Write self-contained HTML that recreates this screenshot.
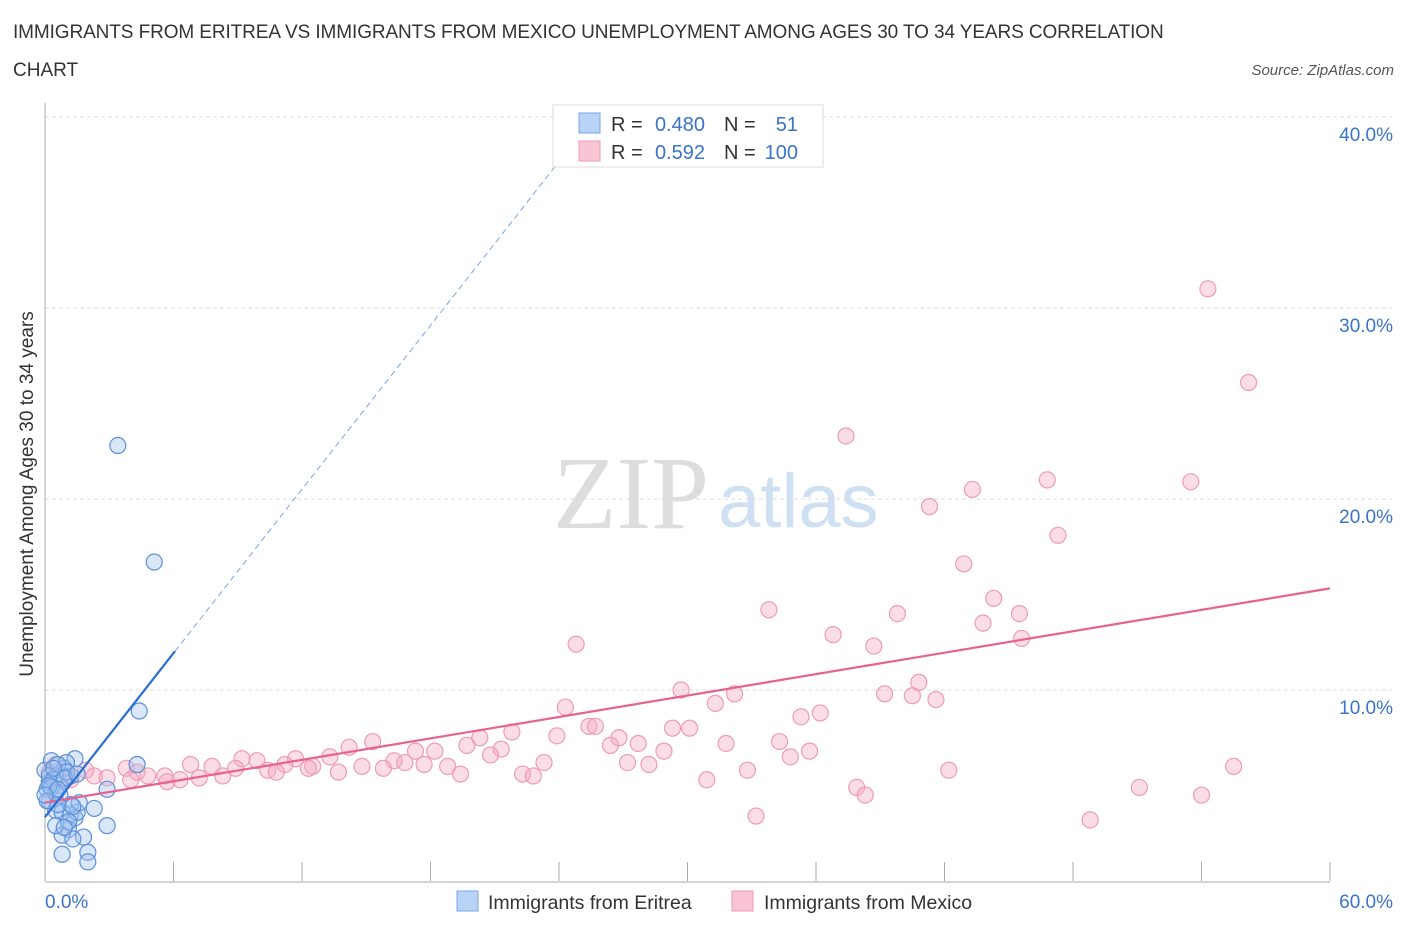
<!DOCTYPE html>
<html><head><meta charset="utf-8">
<style>
body{margin:0;background:#fff;font-family:"Liberation Sans",sans-serif;}
#wrap{position:relative;width:1406px;height:930px;overflow:hidden;}
.t{position:absolute;white-space:nowrap;}
</style></head>
<body>
<div id="wrap">
<div class="t" style="left:13px;top:22px;font-size:19px;color:#333;letter-spacing:-0.1px;">IMMIGRANTS FROM ERITREA VS IMMIGRANTS FROM MEXICO UNEMPLOYMENT AMONG AGES 30 TO 34 YEARS CORRELATION</div>
<div class="t" style="left:13px;top:60px;font-size:19px;color:#333;">CHART</div>
<div class="t" style="right:12px;top:62px;font-size:15px;color:#555;font-style:italic;">Source: ZipAtlas.com</div>
<svg id="svg" width="1406" height="930" style="position:absolute;left:0;top:0"></svg>
</div>
<script>
const NS="http://www.w3.org/2000/svg";
const svg=document.getElementById('svg');
const yTicks=[10,20,30,40];
const yTickLabels=["10.0%","20.0%","30.0%","40.0%"];
const xTickLabels=["0.0%","60.0%"];
const eritreaX=[3.4,5.1,4.4,4.3,2.9,2.9,2.3,1.4,0.9,0.5,0.2,0.1,0.2,0.5,0.8,1.2,1.4,1.5,1.1,0.8,0.5,1.8,2.0,2.0,0.8,1.2,0.7,0,0.3,1.0,1.2,0.6,0.1,0.7,0.2,1.1,0.6,1.6,1.3,0.9,0.4,0.3,1.0,0.5,1.3,0.2,0.9,1.5,0.6,0.0,0.4];
const eritreaY=[22.8,16.7,8.9,6.1,4.8,2.9,3.8,6.4,5.9,5.5,5.2,4.8,4.2,3.7,3.6,3.5,3.3,3.6,2.7,2.4,2.9,2.3,1.5,1.0,1.4,4.0,4.5,5.8,6.3,6.2,5.5,6.1,4.2,5.0,5.5,3.1,4.0,4.1,2.2,2.8,5.3,4.9,5.7,4.6,3.9,5.0,5.4,5.6,4.8,4.5,5.9];
const mexicoX=[54.3,56.2,37.4,46.8,43.3,53.5,41.3,47.3,42.9,44.3,33.8,45.5,39.8,43.8,36.8,45.6,24.8,38.7,40.8,29.7,39.2,40.5,41.6,32.2,31.3,24.3,36.2,35.3,25.4,25.7,21.8,29.3,30.1,23.9,26.8,20.3,15.3,19.7,26.4,27.7,31.8,34.3,14.2,18.2,21.3,17.3,28.9,35.7,20.8,34.8,9.2,9.9,11.7,13.3,16.3,16.8,27.2,28.2,23.3,6.8,7.8,11.2,12.5,14.8,15.8,17.7,18.8,55.5,3.8,8.9,10.4,12.3,13.7,32.8,42.2,4.3,5.6,8.3,10.8,19.4,22.3,22.8,4.8,6.3,7.2,5.7,4.0,2.3,1.9,2.9,1.2,0.5,0.2,30.9,51.1,37.9,38.3,54.0,33.2,48.8];
const mexicoY=[31.0,26.1,23.3,21.0,20.5,20.9,19.6,18.1,16.6,14.8,14.2,14.0,14.0,13.5,12.9,12.7,12.4,12.3,10.4,10.0,9.8,9.7,9.5,9.8,9.3,9.1,8.8,8.6,8.1,8.1,7.8,8.0,8.0,7.6,7.5,7.5,7.3,7.1,7.1,7.2,7.2,7.3,7.0,6.8,6.9,6.8,6.8,6.8,6.6,6.5,6.4,6.3,6.4,6.5,6.3,6.2,6.2,6.1,6.2,6.1,6.0,6.1,6.0,6.0,5.9,6.1,6.0,6.0,5.9,5.9,5.8,5.9,5.7,5.8,5.8,5.7,5.5,5.5,5.7,5.6,5.6,5.5,5.5,5.3,5.4,5.2,5.3,5.5,5.8,5.4,5.3,6.1,5.7,5.3,4.9,4.9,4.5,4.5,3.4,3.2];
const eritreaTrend=[3.35,1.43];
const mexicoTrend=[4.1,0.187];
const X0=45,X1=1330,Y0=881,Y1=117;
const sx=v=>X0+v/60*(X1-X0);
const sy=v=>Y0-v/40*(Y0-Y1);
function el(tag,a,p){const e=document.createElementNS(NS,tag);for(const k in a)e.setAttribute(k,a[k]);(p||svg).appendChild(e);return e;}
let wm=el('text',{x:553,y:528,'font-size':104,'font-family':'Liberation Serif,serif',fill:'#ddd'});wm.textContent='ZIP';


let wm2=el('text',{x:718,y:527,'font-size':76,'font-family':'Liberation Sans,sans-serif',fill:'#cfe0f3'});wm2.textContent='atlas';


yTicks.forEach((t,i)=>{
 const g=el('line',{x1:X0,x2:1392,y1:sy(t),y2:sy(t),stroke:'#ddd','stroke-dasharray':'4,3'});
 
 
 const tx=el('text',{x:1393,y:sy(t)+24,'text-anchor':'end','font-size':19,fill:'#3a73c9'});tx.textContent=yTickLabels[i];
 
 
});
let ax=el('line',{x1:X0,x2:X0,y1:103,y2:Y0,stroke:'#aaa'});


let bx=el('line',{x1:X0,x2:X1,y1:Y0+1,y2:Y0+1,stroke:'#aaa'});


for(let i=0;i<=10;i++){const tk=el('line',{x1:sx(i*6),x2:sx(i*6),y1:862,y2:Y0,stroke:'#aaa'});
 
 }
[[45,'start'],[1393,'end']].forEach((p,i)=>{const t=el('text',{x:p[0],y:908,'text-anchor':p[1],'font-size':19,fill:'#3a73c9'});t.textContent=xTickLabels[i];
 
 });
let yt=el('text',{transform:'translate(33,494) rotate(-90)','text-anchor':'middle','font-size':19,fill:'#333'});yt.textContent='Unemployment Among Ages 30 to 34 years';


mexicoX.forEach((x,i)=>{const c=el('circle',{cx:sx(x),cy:sy(mexicoY[i]),r:8,fill:'rgba(246,170,195,0.4)',stroke:'#ef9ab6','stroke-width':1.2});
 
 });
eritreaX.forEach((x,i)=>{const c=el('circle',{cx:sx(x),cy:sy(eritreaY[i]),r:8,fill:'rgba(160,196,240,0.4)',stroke:'#5b8fd8','stroke-width':1.2});
 
 });
let pl=el('line',{x1:sx(0),y1:sy(mexicoTrend[0]),x2:sx(60),y2:sy(mexicoTrend[0]+60*mexicoTrend[1]),stroke:'#e8628e','stroke-width':2.2});


let bl=el('line',{x1:sx(0),y1:sy(eritreaTrend[0]),x2:sx(6.07),y2:sy(eritreaTrend[0]+6.07*eritreaTrend[1]),stroke:'#2a6ed4','stroke-width':2.2});


let bd=el('line',{x1:sx(6.07),y1:sy(eritreaTrend[0]+6.07*eritreaTrend[1]),x2:sx(24.2),y2:sy(eritreaTrend[0]+24.2*eritreaTrend[1]),stroke:'#7aa5e3','stroke-width':1,'stroke-dasharray':'6,4'});


let lg=el('g',{});


el('rect',{x:553,y:105,width:270,height:62,fill:'#fff',stroke:'#ddd'},lg);
el('rect',{x:579,y:113,width:21,height:20,fill:'#b8d3f5',stroke:'#7aa5e3'},lg);
el('rect',{x:579,y:141,width:21,height:20,fill:'#f9c5d5',stroke:'#ef9ab6'},lg);
[[131,'0.480','51'],[159,'0.592','100']].forEach(r=>{
 let a=el('text',{x:611,y:r[0],'font-size':20,fill:'#333'},lg);a.textContent='R =';
 let b=el('text',{x:705,y:r[0],'font-size':20,fill:'#3a73c9','text-anchor':'end'},lg);b.textContent=r[1];
 let c=el('text',{x:724,y:r[0],'font-size':20,fill:'#333'},lg);c.textContent='N =';
 let d=el('text',{x:798,y:r[0],'font-size':20,fill:'#3a73c9','text-anchor':'end'},lg);d.textContent=r[2];
});
let b1=el('rect',{x:457,y:891,width:21,height:20,fill:'#b8d3f5',stroke:'#7aa5e3'});


let t1=el('text',{x:488,y:909,'font-size':19.5,fill:'#333'});t1.textContent='Immigrants from Eritrea';


let b2=el('rect',{x:732,y:891,width:21,height:20,fill:'#f9c5d5',stroke:'#ef9ab6'});


let t2=el('text',{x:764,y:909,'font-size':19.5,fill:'#333'});t2.textContent='Immigrants from Mexico';


</script>
</body></html>
